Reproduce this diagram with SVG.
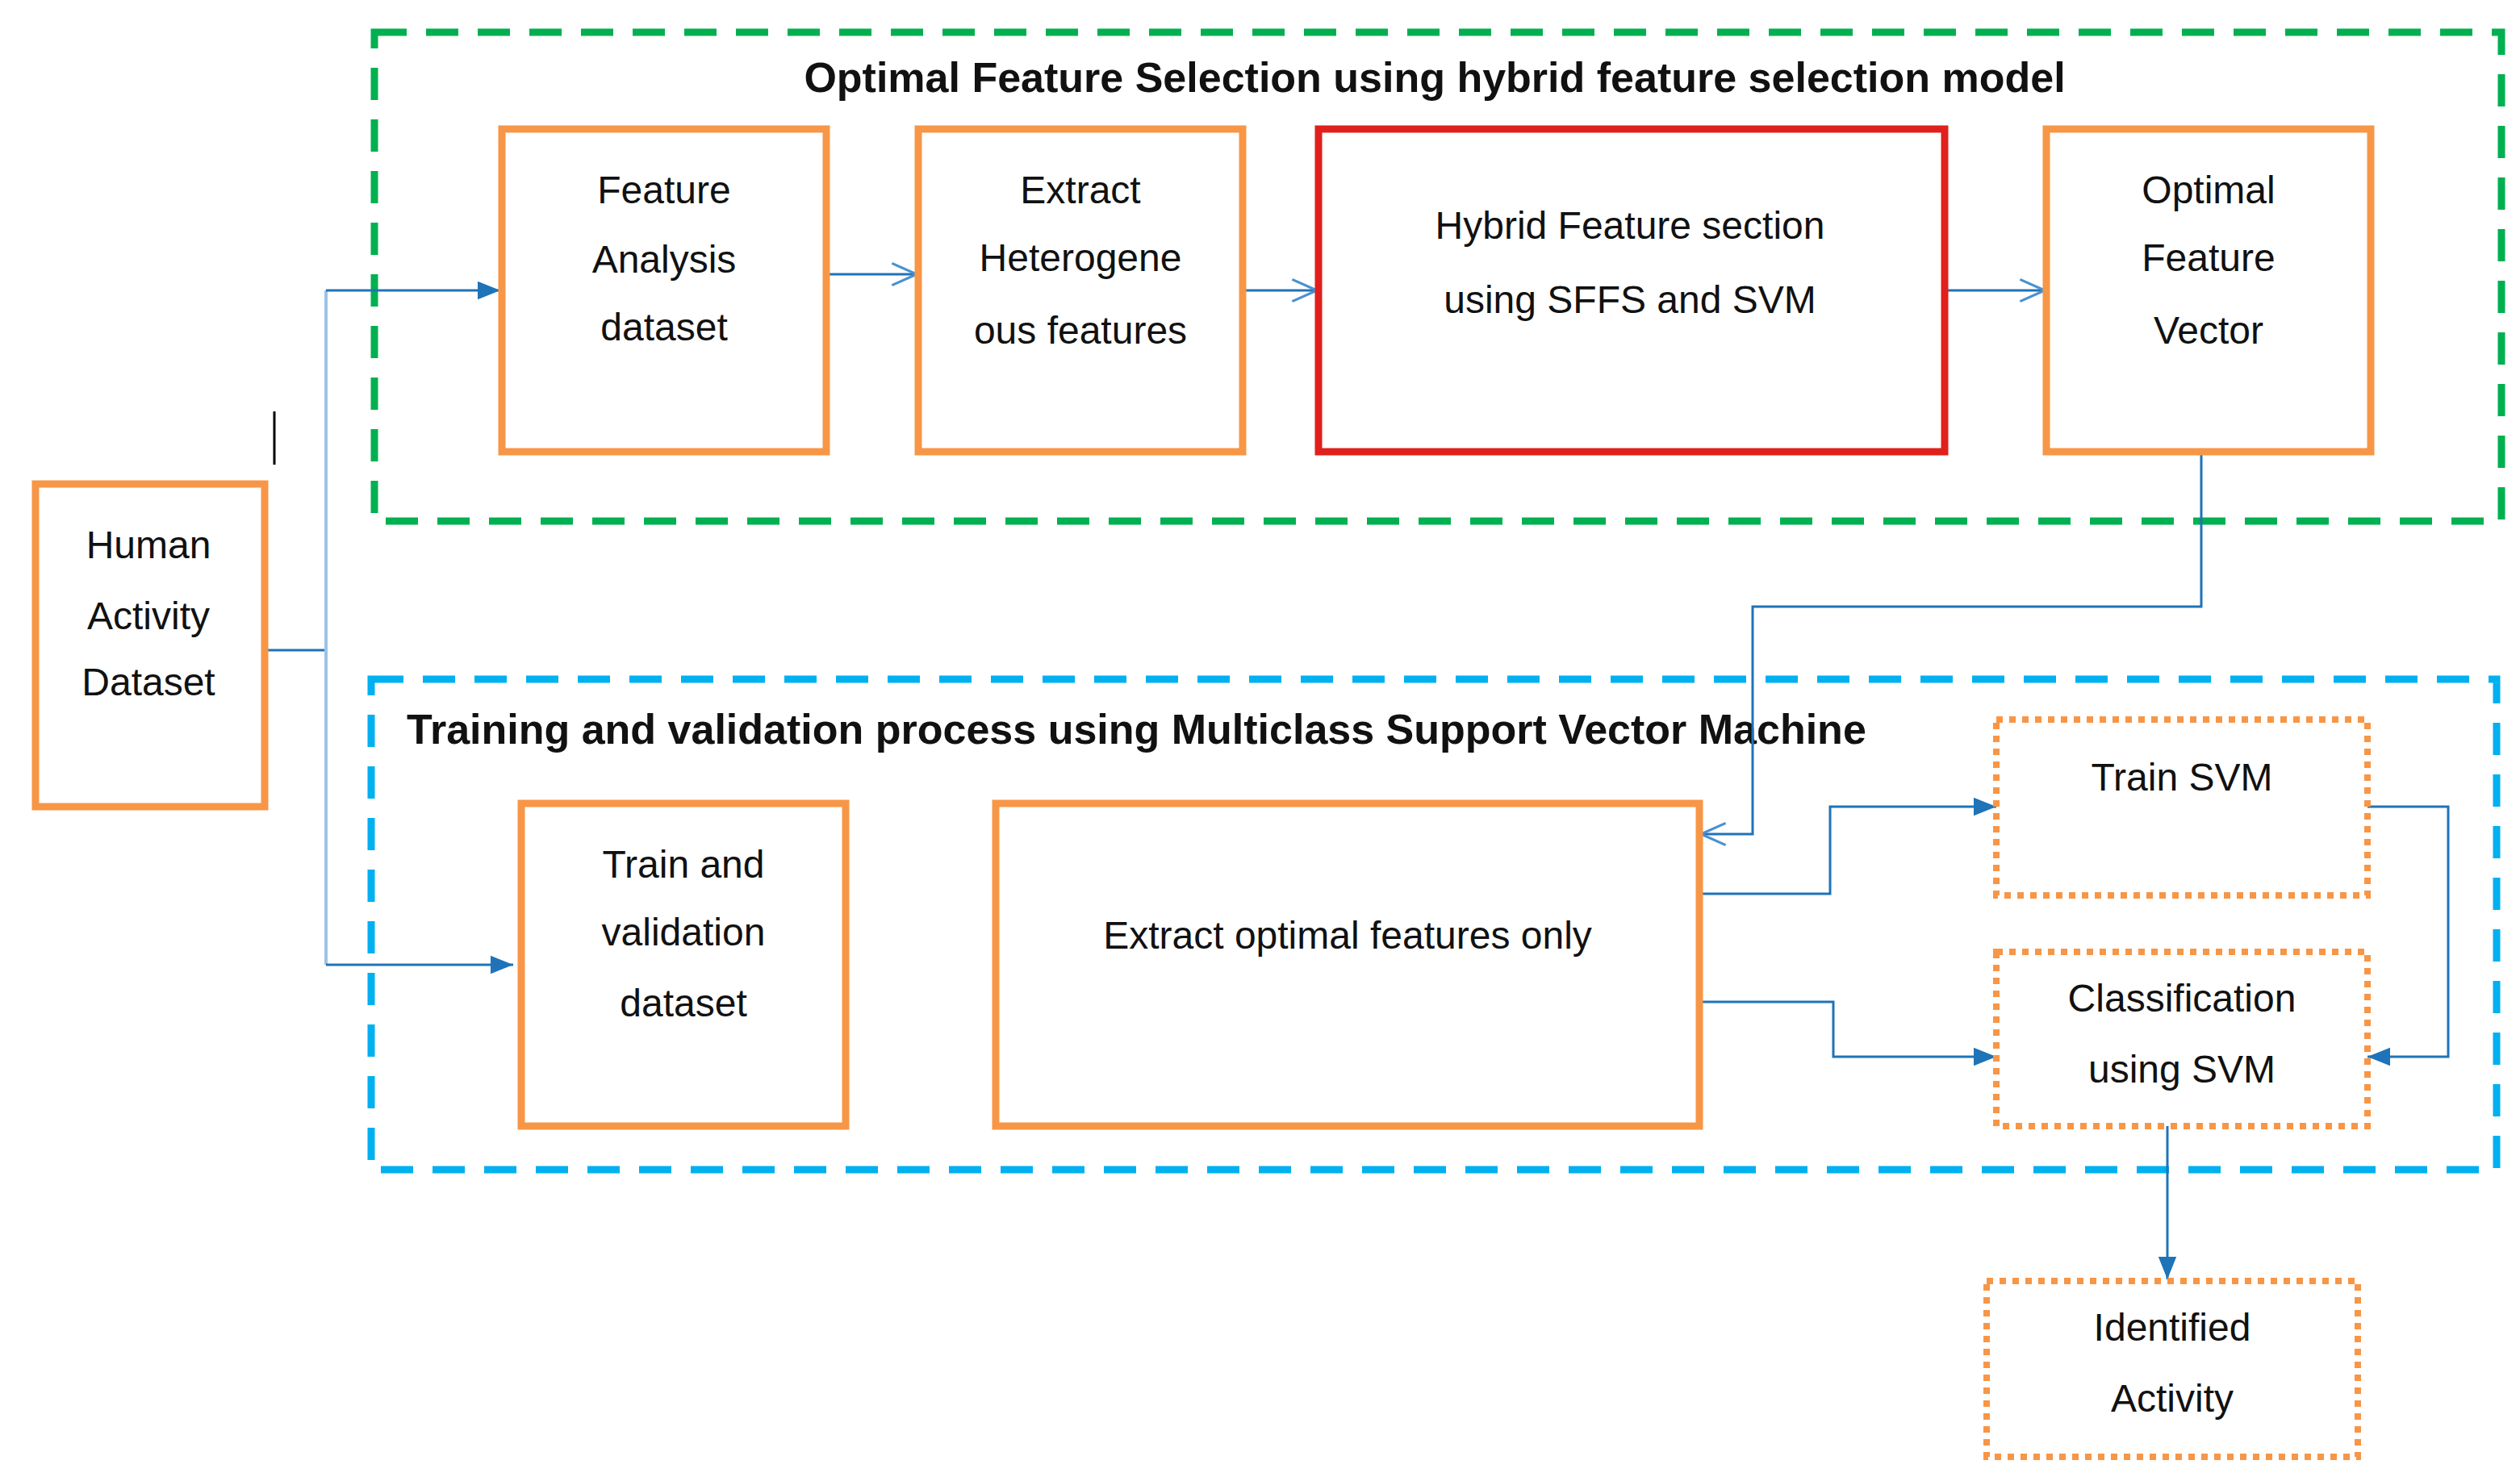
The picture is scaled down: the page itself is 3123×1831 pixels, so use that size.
<svg xmlns="http://www.w3.org/2000/svg" width="3123" height="1831" viewBox="0 0 3123 1831">
<style>
text{font-family:"Liberation Sans",Arial,sans-serif;font-size:48px;fill:#111;text-anchor:middle}
.t{font-weight:bold;font-size:52px}
.box{fill:#fff;stroke:#f79646;stroke-width:9}
.dot{fill:#fff;stroke:#f79646;stroke-width:8;stroke-dasharray:8 8}
.c{fill:none;stroke:#1f73b8;stroke-width:3}
</style>
<defs>
<marker id="fa" viewBox="0 0 10 10" refX="10" refY="5" markerWidth="28" markerHeight="28" markerUnits="userSpaceOnUse" orient="auto"><path d="M0,1L10,5L0,9z" fill="#1f73b8"/></marker>
<marker id="o" viewBox="0 0 10 10" refX="10" refY="5" markerWidth="34" markerHeight="34" markerUnits="userSpaceOnUse" orient="auto"><path d="M1,1L10,5L1,9" fill="none" stroke="#4a90d0" stroke-width="0.9"/></marker>
</defs>
<g id="group-top"><rect x="464" y="40" width="2636" height="606" fill="none" stroke="#00b050" stroke-width="9" stroke-dasharray="40 24"/><text class="t" x="1778" y="114">Optimal Feature Selection using hybrid feature selection model</text></g>
<g id="group-bottom"><rect x="460" y="842" width="2634" height="608" fill="none" stroke="#00b0f0" stroke-width="9" stroke-dasharray="40 24"/><text class="t" x="504" y="922" style="text-anchor:start">Training and validation process using Multiclass Support Vector Machine</text></g>
<line x1="340" y1="510" x2="340" y2="576" stroke="#000" stroke-width="3"/>
<g id="connectors">
<path class="c" d="M328,806H404"/>
<path d="M404,360V1196" fill="none" stroke="#9dc3e6" stroke-width="4"/>
<path class="c" d="M404,360H620" marker-end="url(#fa)"/>
<path class="c" d="M404,1196H636" marker-end="url(#fa)"/>
<path class="c" d="M1024,340H1136" marker-end="url(#o)"/>
<path class="c" d="M1540,360H1632" marker-end="url(#o)"/>
<path class="c" d="M2410,360H2534" marker-end="url(#o)"/>
<path class="c" d="M2728,560V752H2172V1034H2108" marker-end="url(#o)"/>
<path class="c" d="M2106,1108H2268V1000H2474" marker-end="url(#fa)"/>
<path class="c" d="M2106,1242H2272V1310H2474" marker-end="url(#fa)"/>
<path class="c" d="M2934,1000H3034V1310H2934" marker-end="url(#fa)"/>
<path class="c" d="M2686,1396V1586" marker-end="url(#fa)"/>
</g>
<g id="human"><rect class="box" x="44" y="600" width="284" height="400"/><text x="184" y="692">Human</text><text x="184" y="780">Activity</text><text x="184" y="862">Dataset</text></g>
<g id="feature"><rect class="box" x="622" y="160" width="402" height="400"/><text x="823" y="252">Feature</text><text x="823" y="338">Analysis</text><text x="823" y="422">dataset</text></g>
<g id="extract"><rect class="box" x="1138" y="160" width="402" height="400"/><text x="1339" y="252">Extract</text><text x="1339" y="336">Heterogene</text><text x="1339" y="426">ous features</text></g>
<g id="hybrid"><rect x="1634" y="160" width="776" height="400" fill="#fff" stroke="#e0201c" stroke-width="9"/><text x="2020" y="296">Hybrid Feature section</text><text x="2020" y="388">using SFFS and SVM</text></g>
<g id="optimal"><rect class="box" x="2536" y="160" width="402" height="400"/><text x="2737" y="252">Optimal</text><text x="2737" y="336">Feature</text><text x="2737" y="426">Vector</text></g>
<g id="trainval"><rect class="box" x="646" y="996" width="402" height="400"/><text x="847" y="1088">Train and</text><text x="847" y="1172">validation</text><text x="847" y="1260">dataset</text></g>
<g id="extractopt"><rect class="box" x="1234" y="996" width="872" height="400"/><text x="1670" y="1176">Extract optimal features only</text></g>
<g id="trainsvm"><rect class="dot" x="2474" y="892" width="460" height="218"/><text x="2704" y="980">Train SVM</text></g>
<g id="classif"><rect class="dot" x="2474" y="1180" width="460" height="216"/><text x="2704" y="1254">Classification</text><text x="2704" y="1342">using SVM</text></g>
<g id="identified"><rect class="dot" x="2462" y="1588" width="460" height="218"/><text x="2692" y="1662">Identified</text><text x="2692" y="1750">Activity</text></g>
</svg>
